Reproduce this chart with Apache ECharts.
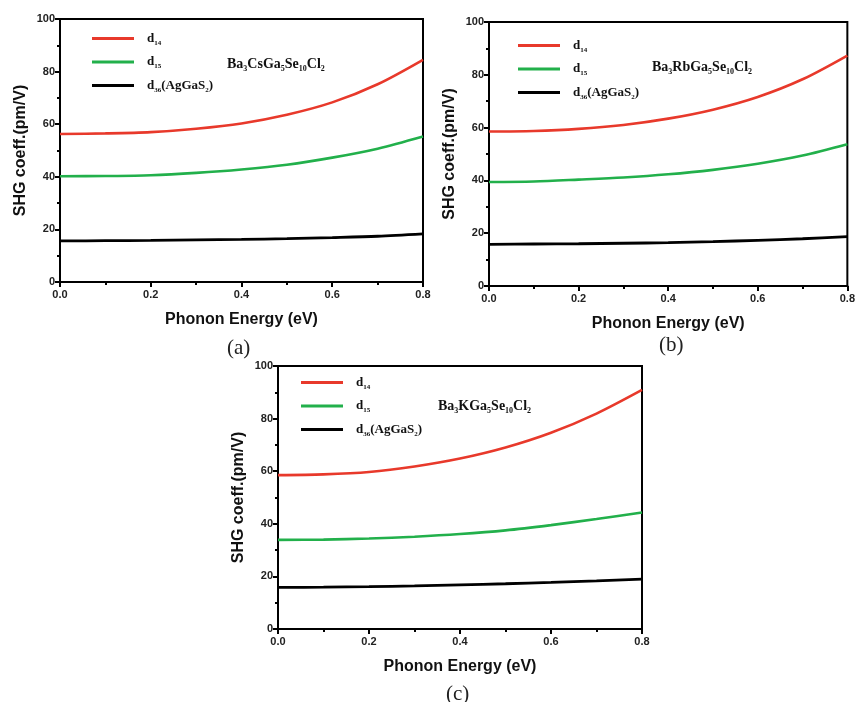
<!DOCTYPE html>
<html>
<head>
<meta charset="utf-8">
<script src="https://cdn.jsdelivr.net/npm/echarts@6/dist/echarts.min.js"></script>
<style>html,body{margin:0;padding:0;background:#fff}#c{width:858px;height:702px}</style>
</head>
<body>
<div id="c"></div>
<script>
// Phonon energy (eV)
const energy = [0.0, 0.1, 0.2, 0.3, 0.4, 0.5, 0.6, 0.7, 0.8];
// (a) Ba3CsGa5Se10Cl2
const aD14 = [56.3, 56.5, 57.0, 58.3, 60.3, 63.6, 68.3, 75.2, 84.5];
const aD15 = [40.2, 40.3, 40.6, 41.5, 42.8, 44.6, 47.3, 50.7, 55.3];
const aD36 = [15.6, 15.7, 15.8, 16.0, 16.2, 16.5, 16.9, 17.4, 18.3];
// (b) Ba3RbGa5Se10Cl2
const bD14 = [58.5, 58.7, 59.5, 61.0, 63.4, 66.8, 71.6, 78.3, 87.3];
const bD15 = [39.4, 39.6, 40.3, 41.1, 42.3, 44.0, 46.3, 49.4, 53.7];
const bD36 = [15.8, 15.9, 16.0, 16.2, 16.4, 16.8, 17.3, 17.9, 18.7];
// (c) Ba3KGa5Se10Cl2
const cD14 = [58.5, 58.8, 59.7, 61.8, 64.8, 69.0, 74.6, 81.9, 90.9];
const cD15 = [33.9, 34.0, 34.4, 35.1, 36.1, 37.5, 39.5, 41.8, 44.3];
const cD36 = [15.8, 15.9, 16.1, 16.4, 16.8, 17.2, 17.7, 18.3, 19.0];
const xTicks = ['0.0', '0.2', '0.4', '0.6', '0.8'];
const yTicks = ['0', '20', '40', '60', '80', '100'];

const RED = '#e8392b', GREEN = '#22b04b', BLACK = '#000000';
const SANS = 'Liberation Sans, Arial, sans-serif';
const SERIF = 'Liberation Serif, Times New Roman, serif';

const grids = [
  {left: 60, top: 19, width: 363, height: 263},
  {left: 489, top: 22, width: 362, height: 264},
  {left: 278, top: 366, width: 364, height: 263}
];

function xAxisFor(i) {
  return {
    type: 'value', gridIndex: i, min: 0, max: 0.8, interval: 0.2,
    name: 'Phonon Energy (eV)', nameLocation: 'middle', nameGap: 30,
    nameTextStyle: {fontFamily: SANS, fontWeight: 'bold', fontSize: 16, color: '#111'},
    axisLine: {onZero: false, lineStyle: {color: '#000', width: 2}},
    axisTick: {inside: false, length: 5, lineStyle: {color: '#000', width: 2}},
    minorTick: {show: true, splitNumber: 2, length: 3, lineStyle: {color: '#000', width: 2}},
    splitLine: {show: false},
    axisLabel: {fontFamily: SANS, fontWeight: 'bold', fontSize: 11, color: '#222', margin: 7,
      formatter: v => xTicks[Math.round(v / 0.2)]}
  };
}
function yAxisFor(i) {
  return {
    type: 'value', gridIndex: i, min: 0, max: 100, interval: 20,
    name: 'SHG coeff.(pm/V)', nameLocation: 'middle', nameGap: 31,
    nameTextStyle: {fontFamily: SANS, fontWeight: 'bold', fontSize: 16, color: '#111'},
    axisLine: {onZero: false, lineStyle: {color: '#000', width: 2}},
    axisTick: {inside: false, length: 5, lineStyle: {color: '#000', width: 2}},
    minorTick: {show: true, splitNumber: 2, length: 3, lineStyle: {color: '#000', width: 2}},
    splitLine: {show: false},
    axisLabel: {fontFamily: SANS, fontWeight: 'bold', fontSize: 11, color: '#222', margin: 5,
      formatter: v => yTicks[Math.round(v / 20)]}
  };
}

function pairs(ys) { return energy.map((x, k) => [x, ys[k]]); }
function series(i, name, data, color, w) {
  return {type: 'line', name: name, xAxisIndex: i, yAxisIndex: i, data: pairs(data),
    smooth: 0.3, showSymbol: false, symbol: 'none', lineStyle: {color: color, width: w},
    itemStyle: {color: color}, z: 3};
}

const legendRich = {
  pad: {width: 8},
  m: {fontFamily: SERIF, fontWeight: 'bold', fontSize: 13, color: '#111', lineHeight: 16},
  s: {fontFamily: SERIF, fontWeight: 'bold', fontSize: 7, color: '#111', lineHeight: 8, verticalAlign: 'bottom'}
};
const legendText = {
  d14: '{pad|}{m|d}{s|14}',
  d15: '{pad|}{m|d}{s|15}',
  d36: '{pad|}{m|d}{s|36}{m|(AgGaS}{s|2}{m|)}'
};
function legendFor(left, top) {
  return {
    orient: 'vertical', left: left, top: top, itemWidth: 42, itemHeight: 3, itemGap: 9,
    icon: 'rect', selectedMode: false, data: ['d14', 'd15', 'd36'],
    formatter: n => legendText[n], textStyle: {rich: legendRich}
  };
}

const titleRich = {
  m: {fontFamily: SERIF, fontWeight: 'bold', fontSize: 14, color: '#111', lineHeight: 18},
  s: {fontFamily: SERIF, fontWeight: 'bold', fontSize: 8, color: '#111', lineHeight: 8, verticalAlign: 'bottom'}
};
function compound(parts) {
  return parts.map((p, k) => (k % 2 === 0 ? '{m|' : '{s|') + p + '}').join('');
}
function compoundTitle(text, left, top) {
  return {text: text, left: left, top: top, textStyle: {rich: titleRich}};
}
function panelLabel(text, left, top) {
  return {text: text, left: left, top: top,
    textStyle: {fontFamily: SERIF, fontWeight: 'normal', fontSize: 21, color: '#222'}};
}

const option = {
  backgroundColor: '#ffffff',
  animation: false,
  grid: grids.map(g => Object.assign({show: true, borderColor: '#000', borderWidth: 2, backgroundColor: 'transparent', containLabel: false}, g)),
  xAxis: [xAxisFor(0), xAxisFor(1), xAxisFor(2)],
  yAxis: [yAxisFor(0), yAxisFor(1), yAxisFor(2)],
  legend: [legendFor(87, 27), legendFor(513, 34), legendFor(296, 371)],
  title: [
    compoundTitle(compound(['Ba', '3', 'CsGa', '5', 'Se', '10', 'Cl', '2']), 222, 50),
    compoundTitle(compound(['Ba', '3', 'RbGa', '5', 'Se', '10', 'Cl', '2']), 647, 53),
    compoundTitle(compound(['Ba', '3', 'KGa', '5', 'Se', '10', 'Cl', '2']), 433, 392),
    panelLabel('(a)', 222, 333),
    panelLabel('(b)', 654, 330),
    panelLabel('(c)', 441, 679)
  ],
  series: [
    series(0, 'd14', aD14, RED, 2.6), series(0, 'd15', aD15, GREEN, 2.6), series(0, 'd36', aD36, BLACK, 2.8),
    series(1, 'd14', bD14, RED, 2.6), series(1, 'd15', bD15, GREEN, 2.6), series(1, 'd36', bD36, BLACK, 2.8),
    series(2, 'd14', cD14, RED, 2.6), series(2, 'd15', cD15, GREEN, 2.6), series(2, 'd36', cD36, BLACK, 2.8)
  ]
};
const chart = echarts.init(document.getElementById('c'), null, {renderer: 'canvas'});
chart.setOption(option);
</script>
</body>
</html>
